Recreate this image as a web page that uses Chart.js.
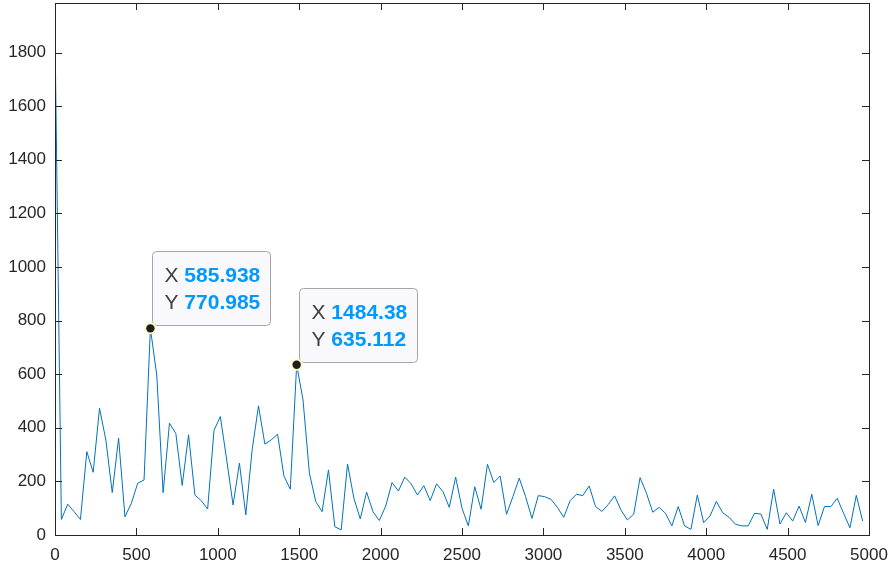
<!DOCTYPE html>
<html>
<head>
<meta charset="utf-8">
<script src="https://cdn.jsdelivr.net/npm/chart.js@4.4.1/dist/chart.umd.min.js"></script>
<style>
  html, body { margin: 0; padding: 0; background: #ffffff; }
  #plot { display: block; }
</style>
</head>
<body>
<canvas id="plot" width="894" height="569"></canvas>
<script>
// single-sided spectrum, 256-pt FFT at 10 kHz -> bin width 39.0625 Hz
let binWidth = 39.0625;
let magnitude = [
    1870, 58, 115, 87, 58, 311, 234, 473, 354, 158,
    361, 68, 118, 193, 205, 770.985, 597, 158, 417, 379,
    185, 374, 149, 128, 97, 390, 442, 280, 112, 268,
    75, 318, 482, 339, 355, 376, 220, 171, 635.112, 504,
    231, 125, 87, 243, 31, 19, 265, 137, 60, 160,
    87, 54, 108, 196, 164, 216, 191, 149, 184, 128,
    191, 162, 103, 216, 100, 34, 180, 96, 264, 196,
    220, 77, 143, 212, 143, 62, 147, 143, 133, 103,
    66, 128, 152, 147, 183, 106, 88, 114, 146, 93,
    56, 78, 214, 156, 85, 103, 81, 34, 106, 34,
    21, 149, 46, 71, 125, 83, 66, 40, 34, 34,
    81, 78, 21, 171, 41, 83, 52, 108, 47, 152,
    35, 106, 106, 137, 81, 27, 148, 52
];
let freq = magnitude.map((v, i) => i * binWidth);
let tipIndex = [15, 38];
let xTicks = [0, 500, 1000, 1500, 2000, 2500, 3000, 3500, 4000, 4500, 5000];
let yTicks = [0, 200, 400, 600, 800, 1000, 1200, 1400, 1600, 1800];

const axisColor = "#262626";
const font = "'Liberation Sans', Arial, Helvetica, sans-serif";

// MATLAB style box with inward ticks on all four sides
const boxAxes = {
    id: "boxAxes",
    afterDatasetsDraw(chart) {
        const { ctx, chartArea: a, scales } = chart;
        ctx.save();
        ctx.strokeStyle = axisColor;
        ctx.lineWidth = 1;
        ctx.strokeRect(Math.round(a.left) + 0.5, Math.round(a.top) + 0.5,
            Math.round(a.right - a.left), Math.round(a.bottom - a.top));
        let len = 7;
        ctx.beginPath();
        scales.x.ticks.forEach((t) => {
            let px = Math.round(scales.x.getPixelForValue(t.value)) + 0.5;
            ctx.moveTo(px, a.bottom); ctx.lineTo(px, a.bottom - len);
            ctx.moveTo(px, a.top); ctx.lineTo(px, a.top + len);
        });
        scales.y.ticks.forEach((t) => {
            let py = Math.round(scales.y.getPixelForValue(t.value)) + 0.5;
            ctx.moveTo(a.left, py); ctx.lineTo(a.left + len, py);
            ctx.moveTo(a.right, py); ctx.lineTo(a.right - len, py);
        });
        ctx.stroke();
        ctx.restore();
    },
};

// data tips
const dataTips = {
    id: "dataTips",
    afterDraw(chart) {
        const { ctx, scales } = chart;
        ctx.save();
        tipIndex.forEach((i) => {
            let px = scales.x.getPixelForValue(freq[i]);
            let py = scales.y.getPixelForValue(magnitude[i]);
            let xs = freq[i].toPrecision(6);
            let ys = magnitude[i].toPrecision(6);

            ctx.font = "21px " + font;
            let wLab = ctx.measureText("X ").width;
            ctx.font = "bold 21px " + font;
            let wVal = Math.max(ctx.measureText(xs).width, ctx.measureText(ys).width);
            let w = Math.round(12 + wLab + wVal + 10);
            let h = 74;
            let bx = Math.round(px) + 2.5;
            let by = Math.round(py) - 2.5 - h;

            ctx.beginPath();
            ctx.roundRect(bx, by, w, h, 4);
            ctx.fillStyle = "#f8f8fd";
            ctx.fill();
            ctx.strokeStyle = "#a6a6a6";
            ctx.lineWidth = 1;
            ctx.stroke();

            ctx.textBaseline = "middle";
            ctx.textAlign = "left";
            [["X", xs, 25], ["Y", ys, 52]].forEach(([lab, val, dy]) => {
                ctx.font = "21px " + font;
                ctx.fillStyle = "#404040";
                ctx.fillText(lab, bx + 12, by + dy);
                ctx.font = "bold 21px " + font;
                ctx.fillStyle = "#0099ff";
                ctx.fillText(val, bx + 12 + wLab, by + dy);
            });

            ctx.beginPath();
            ctx.arc(px, py, 6, 0, Math.PI * 2);
            ctx.fillStyle = "#fffbc8";
            ctx.fill();
            ctx.beginPath();
            ctx.arc(px, py, 4.2, 0, Math.PI * 2);
            ctx.fillStyle = "#1e1e1e";
            ctx.fill();
        });
        ctx.restore();
    },
};

new Chart(document.getElementById("plot"), {
    type: "line",
    data: {
        datasets: [
            {
                data: freq.map((f, i) => ({ x: f, y: magnitude[i] })),
                borderColor: "#0072bd",
                borderWidth: 1,
                pointRadius: 0,
                tension: 0,
                fill: false,
            },
        ],
    },
    options: {
        responsive: false,
        animation: false,
        devicePixelRatio: 1,
        layout: { padding: { top: 3, right: 25, left: 0, bottom: 0 } },
        plugins: { legend: { display: false }, tooltip: { enabled: false } },
        scales: {
            x: {
                type: "linear",
                min: 0,
                max: 5000,
                grid: { display: false, drawTicks: false },
                border: { display: false },
                afterBuildTicks: (s) => { s.ticks = xTicks.map((v) => ({ value: v })); },
                ticks: {
                    maxRotation: 0,
                    autoSkip: false,
                    padding: 10,
                    color: axisColor,
                    font: { family: font, size: 17 },
                    callback: (v) => String(v),
                },
                afterFit: (s) => {
                    s.height = 34;
                    s.paddingLeft = 0;
                    s.paddingRight = 0;
                },
            },
            y: {
                min: 0,
                max: 1985,
                grid: { display: false, drawTicks: false },
                border: { display: false },
                afterBuildTicks: (s) => { s.ticks = yTicks.map((v) => ({ value: v })); },
                ticks: {
                    autoSkip: false,
                    padding: 9,
                    color: axisColor,
                    font: { family: font, size: 17 },
                    callback: (v) => String(v),
                },
                afterFit: (s) => {
                    s.width = 55;
                    s.paddingTop = 0;
                    s.paddingBottom = 0;
                },
            },
        },
    },
    plugins: [boxAxes, dataTips],
});
</script>
</body>
</html>
